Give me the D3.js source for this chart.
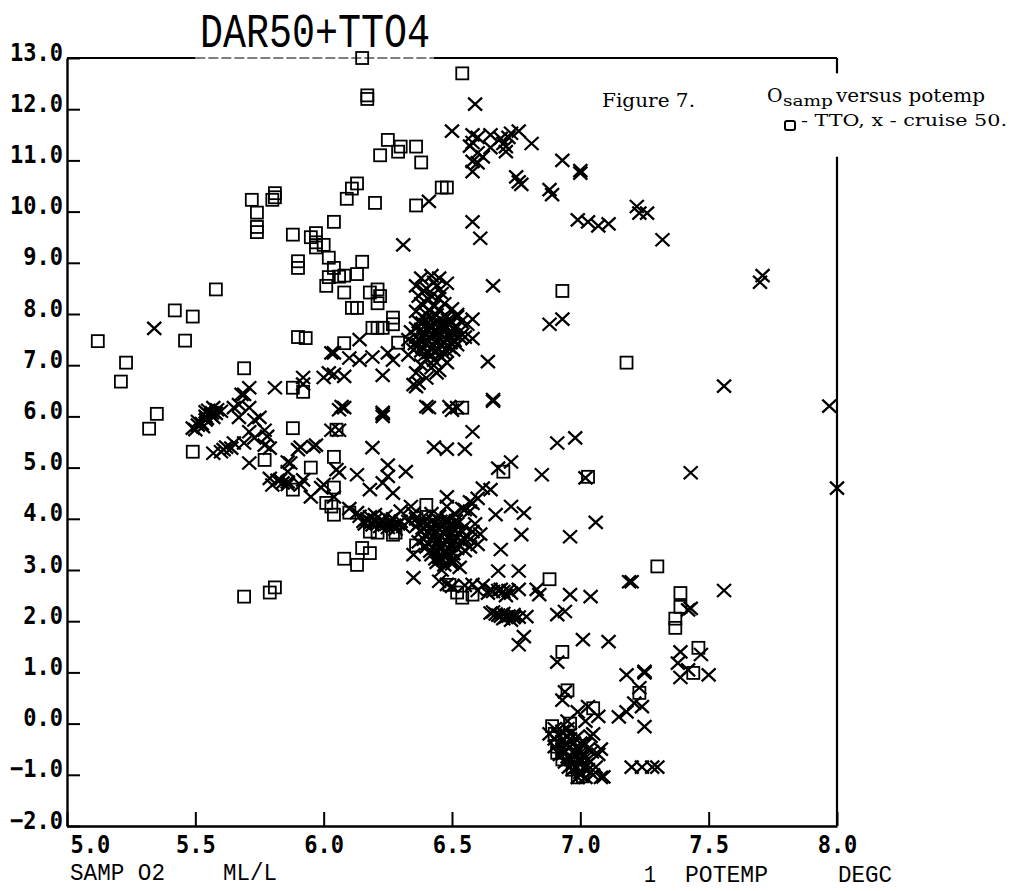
<!DOCTYPE html>
<html><head><meta charset="utf-8">
<script src="https://cdn.jsdelivr.net/npm/d3@7"></script>
<style>body{margin:0;background:#fff}</style>
</head><body>
<svg id="c" width="1014" height="891" xmlns="http://www.w3.org/2000/svg"></svg>
<script>
// ---------- data ----------
const titleText = "DAR50+TTO4";
const xTickValues = [5.0, 5.5, 6.0, 6.5, 7.0, 7.5, 8.0];
const yTickValues = [-2, -1, 0, 1, 2, 3, 4, 5, 6, 7, 8, 9, 10, 11, 12, 13];
const xDomain = [5, 8];
const yDomain = [-2, 13];

// TTO samples (squares): [O2 ml/l, potemp degC]
const ttoPoints = [
 [6.15,13.0],[6.54,12.7],[6.17,12.27],[6.17,12.2],
 [6.25,11.4],[6.22,11.1],[6.29,11.17],[6.3,11.27],[6.36,11.27],[6.38,10.96],
 [6.2,10.17],[6.09,10.25],[6.11,10.45],[6.13,10.55],[6.36,10.12],[6.46,10.47],[6.48,10.47],
 [6.04,9.8],[6.93,8.45],
 [5.72,10.23],[5.74,9.98],[5.74,9.7],[5.74,9.6],[5.8,10.23],[5.81,10.36],[5.81,10.28],
 [5.88,9.55],[5.9,9.03],[5.9,8.9],[5.95,9.5],[5.97,9.58],[5.97,9.4],[5.97,9.3],[6.0,9.35],
 [6.02,9.1],[6.04,8.9],[6.02,8.72],[6.01,8.55],[6.06,8.73],[6.08,8.75],[6.13,8.78],[6.15,9.02],
 [6.08,8.42],[6.11,8.12],[6.13,8.12],[6.18,8.42],[6.21,8.48],[6.22,8.35],[6.21,8.21],
 [6.27,7.93],[6.27,7.8],[6.19,7.73],[6.21,7.73],[6.23,7.73],[6.08,7.43],[6.29,7.44],
 [5.9,7.55],[5.93,7.53],[5.69,6.94],[5.58,8.48],[5.42,8.07],[5.49,7.95],[5.46,7.48],
 [5.88,6.56],[5.92,6.48],
 [5.12,7.47],[5.23,7.05],[5.21,6.68],[5.35,6.05],[5.32,5.76],[5.49,5.31],
 [5.88,5.77],[5.77,5.15],[5.95,5.0],[5.88,4.57],[6.04,5.21],[6.05,5.74],[6.04,4.61],[6.01,4.31],[6.03,4.24],[6.04,4.08],[6.1,4.12],
 [5.69,2.48],[5.79,2.56],[5.81,2.66],
 [6.18,3.75],[6.21,3.73],[6.27,3.69],[6.28,3.73],[6.15,3.43],[6.18,3.33],[6.08,3.22],[6.13,3.1],
 [6.36,3.48],[6.4,4.27],[6.54,6.17],[6.49,2.71],[6.52,2.56],[6.54,2.46],[6.58,2.52],
 [7.18,7.05],[6.7,4.92],[7.03,4.82],[7.3,3.07],[6.88,2.82],
 [7.39,2.55],[7.39,2.28],[7.37,2.05],[7.37,1.87],[7.46,1.48],[7.44,0.99],
 [6.93,1.4],[6.95,0.65],[7.05,0.3],[7.23,0.6],
 [6.89,-0.05],[6.91,-0.45],[6.91,-0.57],[6.93,-0.7],[6.95,-0.27],[6.96,0.0],[6.99,-1.05],
 [7.01,-1.03],[6.97,-0.9],[6.9,-0.2],[7.0,-0.8]
];

// cruise 50 samples (crosses): [O2 ml/l, potemp degC]
const cruise50Points = [
 // upper group
 [6.59,12.1],[6.5,11.57],[6.58,11.5],[6.58,11.35],[6.6,11.15],[6.57,11.28],[6.6,11.45],[6.65,11.5],
 [6.65,11.25],[6.62,11.07],[6.6,10.95],[6.69,11.43],[6.7,11.33],[6.71,11.27],[6.72,11.45],[6.73,11.53],
 [6.76,11.57],[6.71,11.17],[6.81,11.33],[6.58,10.98],[6.58,10.78],[6.75,10.68],[6.76,10.58],[6.77,10.53],
 [6.93,11.0],[7.0,10.8],[7.0,10.75],[6.88,10.43],[6.89,10.33],[6.41,10.2],[6.58,9.8],[6.61,9.48],
 [6.31,9.35],[6.99,9.84],[7.03,9.8],[7.07,9.72],[7.11,9.76],[7.22,10.1],[7.23,9.97],[7.26,9.97],
 [7.32,9.45],[6.66,8.55],[7.71,8.75],[7.7,8.62],
 // right edge
 [7.56,6.59],[7.97,6.2],[7.43,4.9],[8.0,4.6],[7.56,2.6],
 // middle
 [6.88,7.8],[6.93,7.9],[6.64,7.07],[6.66,6.33],[6.58,7.52],[6.52,7.99],[6.91,5.48],[6.98,5.58],
 [6.85,4.86],[6.73,5.11],[6.68,4.99],[7.02,4.8],[7.06,3.93],[6.96,3.65],[6.77,3.69],[6.78,4.11],
 [6.73,4.24],[6.69,3.4],[6.68,2.98],[6.76,2.98],[7.19,2.77],[6.35,2.85],
 [6.08,6.17],[6.23,6.0],[6.23,6.05],[6.41,6.17],[6.5,6.12],[6.58,5.7],[6.43,5.4],[6.48,5.36],
 [6.55,5.36],[6.19,5.39],[6.06,5.73],[6.06,4.9],[6.13,4.86],[6.25,5.05],[6.25,4.83],[6.32,4.92],
 [6.23,4.7],[6.27,4.5],[6.18,4.57],[6.04,4.43],[6.65,4.57],[6.62,4.6],[6.6,4.4],[6.57,4.33],
 [6.48,4.43],[6.48,4.24],[6.55,4.18],[6.67,4.08],[6.34,4.24],[6.66,6.3],[6.52,6.17],
 // left group
 [5.34,7.72],[5.51,5.83],[5.49,5.77],[5.54,5.93],[5.56,6.03],[5.54,6.09],[5.57,6.17],[5.54,6.0],
 [5.58,6.06],[5.6,6.1],[5.51,5.9],[5.5,5.74],
 [5.525,5.86],[5.545,5.96],[5.565,6.07],[5.53,5.8],[5.585,6.13],[5.55,6.12],[5.57,5.98],
 [5.57,5.28],[5.6,5.31],[5.62,5.4],[5.64,5.38],[5.65,5.48],[5.69,5.48],[5.61,5.35],
 [5.65,6.17],[5.67,6.23],[5.69,6.43],[5.71,6.56],[5.68,6.43],
 [5.67,5.98],[5.71,6.17],[5.73,5.93],[5.75,5.98],[5.71,5.7],[5.77,5.73],[5.73,5.58],[5.78,5.61],
 [5.77,5.44],[5.79,5.38],[5.71,5.09],[5.81,6.56],[5.92,6.76],[5.92,6.63],[6.03,7.24],[6.0,6.76],
 [6.04,6.82],[6.02,6.85],[6.08,6.78],
 [5.79,4.79],[5.82,4.75],[5.84,4.7],[5.86,4.72],[5.8,4.66],[5.91,4.66],[5.87,5.09],[5.86,4.92],
 [5.91,5.4],[5.97,5.44],[5.95,4.43],[5.99,4.61],[6.03,5.73],[6.06,6.13],
 [5.86,5.11],[5.9,5.35],[5.96,5.41],[5.92,4.76],[6.0,4.67],[6.05,4.96],[5.86,4.67],[5.83,4.76],
 // upper-middle
 [6.14,7.5],[6.04,7.24],[6.1,7.14],[6.14,7.1],[6.19,7.16],[6.25,7.24],[6.27,7.1],[6.23,6.8],
 [6.35,6.62],[6.36,6.58],[6.07,6.19],[6.23,6.08],[6.4,6.19],[6.49,6.19],
 // dense cluster near 6.4 / 7.5
 [6.38,8.7],[6.42,8.75],[6.45,8.7],[6.36,8.55],[6.4,8.5],[6.44,8.55],[6.48,8.6],[6.37,8.35],
 [6.42,8.35],[6.46,8.4],[6.38,8.2],[6.43,8.15],[6.47,8.2],[6.5,8.1],[6.36,8.05],[6.4,8.0],
 [6.44,7.98],[6.48,7.95],[6.52,7.95],
 [6.37,7.85],[6.4,7.8],[6.43,7.82],[6.46,7.8],[6.49,7.78],[6.52,7.75],[6.38,7.7],[6.41,7.68],
 [6.44,7.66],[6.47,7.7],[6.5,7.65],[6.54,7.6],[6.36,7.55],[6.39,7.55],[6.42,7.52],[6.45,7.55],
 [6.48,7.5],[6.51,7.48],[6.37,7.4],[6.4,7.42],[6.43,7.38],[6.46,7.4],[6.49,7.35],[6.52,7.4],
 [6.35,7.3],[6.38,7.28],[6.41,7.25],[6.44,7.27],[6.47,7.22],[6.4,7.12],[6.43,7.1],[6.46,7.15],
 [6.38,7.0],[6.42,6.95],[6.45,6.9],[6.36,6.85],[6.4,6.75],[6.33,7.5],[6.34,7.65],[6.56,7.8],
 [6.55,7.55],[6.58,7.9],[6.33,7.2],[6.37,6.65],[6.44,6.85],[6.48,7.05],
 [6.385,7.82],[6.415,7.78],[6.445,7.74],[6.475,7.76],[6.505,7.72],[6.39,7.62],[6.42,7.6],[6.45,7.63],
 [6.48,7.6],[6.51,7.58],[6.375,7.48],[6.405,7.47],[6.435,7.46],[6.465,7.45],[6.495,7.44],[6.385,7.35],
 [6.415,7.33],[6.445,7.32],[6.475,7.3],[6.505,7.3],[6.39,7.18],[6.42,7.19],[6.45,7.2],[6.395,7.9],
 [6.425,7.92],[6.455,7.9],[6.485,7.88],[6.41,8.08],[6.45,8.08],[6.39,8.45],[6.43,8.62],[6.41,8.28],
 [6.45,8.3],[6.53,7.55],[6.535,7.85],[6.36,7.72],[6.355,7.42],
 // cluster near 6.2 / 3.9
 [6.14,4.05],[6.17,4.0],[6.2,3.98],[6.23,3.95],[6.26,3.92],[6.29,3.9],[6.16,3.9],[6.19,3.88],
 [6.22,3.85],[6.25,3.83],[6.28,3.8],[6.31,3.85],[6.2,4.08],[6.24,4.05],[6.27,4.0],[6.13,4.12],
 [6.1,4.2],[6.33,3.95],[6.35,4.1],[6.3,4.15],
 [6.155,3.95],[6.185,3.93],[6.215,3.92],[6.245,3.9],[6.275,3.87],[6.3,3.95],[6.18,4.04],[6.26,3.97],
 // cluster near 6.45 / 3.5
 [6.36,4.0],[6.39,4.05],[6.42,4.1],[6.45,4.05],[6.48,4.0],[6.51,4.1],[6.54,4.2],[6.57,4.15],
 [6.37,3.9],[6.4,3.88],[6.43,3.9],[6.46,3.85],[6.49,3.88],[6.52,3.9],[6.55,3.85],[6.38,3.75],
 [6.41,3.72],[6.44,3.75],[6.47,3.7],[6.5,3.72],[6.53,3.7],[6.56,3.65],[6.39,3.6],[6.42,3.58],
 [6.45,3.6],[6.48,3.55],[6.51,3.58],[6.54,3.55],[6.57,3.6],[6.4,3.45],[6.43,3.42],[6.46,3.45],
 [6.49,3.4],[6.52,3.42],[6.55,3.38],[6.42,3.3],[6.45,3.25],[6.48,3.28],[6.51,3.22],[6.44,3.15],
 [6.47,3.1],[6.5,3.12],[6.53,3.05],[6.46,3.0],[6.6,3.5],[6.61,3.7],[6.59,3.9],[6.35,3.3],[6.58,4.3],
 [6.395,3.95],[6.425,3.97],[6.455,3.95],[6.485,3.94],[6.515,3.96],[6.385,3.82],[6.415,3.8],[6.445,3.82],
 [6.475,3.78],[6.505,3.8],[6.535,3.78],[6.395,3.67],[6.425,3.65],[6.455,3.67],[6.485,3.63],[6.515,3.65],
 [6.545,3.63],[6.405,3.52],[6.435,3.5],[6.465,3.52],[6.495,3.48],[6.525,3.5],[6.415,3.37],[6.445,3.35],
 [6.475,3.35],[6.505,3.32],[6.435,3.22],[6.465,3.2],[6.495,3.18],[6.57,3.45],[6.58,3.75],[6.37,3.55],[6.36,3.85],
 // cluster near 6.6 / 2.6 and 6.7 / 2.1
 [6.45,2.78],[6.48,2.72],[6.5,2.68],[6.55,2.7],[6.58,2.72],[6.62,2.7],[6.65,2.62],[6.68,2.6],
 [6.7,2.58],[6.73,2.55],[6.76,2.62],[6.6,2.6],[6.64,2.55],[6.66,2.58],[6.69,2.62],[6.72,2.6],[6.71,2.5],
 [6.66,2.18],[6.68,2.12],[6.7,2.15],[6.72,2.1],[6.74,2.13],[6.76,2.08],[6.7,2.05],[6.73,2.02],
 [6.79,2.09],[6.65,2.16],[6.69,2.1],[6.71,2.08],[6.74,2.07],[6.67,2.14],[6.78,1.7],[6.76,1.54],
 // lower right
 [6.83,2.62],[6.84,2.52],[6.96,2.52],[7.04,2.48],[6.91,2.13],[6.94,2.19],[7.01,1.64],[7.11,1.6],
 [6.91,1.2],[7.2,2.77],[7.42,2.22],[7.43,2.25],[7.39,1.4],[7.38,1.18],[7.39,0.9],[7.42,1.05],
 [7.47,1.35],[7.5,0.95],[7.18,0.95],[7.25,0.99],[7.25,1.02],[7.23,0.7],[7.21,0.4],[7.24,0.33],
 [7.15,0.13],[7.18,0.23],[7.25,-0.06],[6.93,0.46],[6.94,0.62],[6.99,0.23],[7.03,0.33],[7.07,0.14],
 [7.08,-0.5],[7.09,-1.04],[7.2,-0.85],[7.24,-0.85],[7.28,-0.85],[7.3,-0.85],[7.05,-0.2],[7.0,-0.38],
 // bottom cluster
 [6.9,-0.1],[6.93,-0.15],[6.96,-0.2],[6.9,-0.3],[6.93,-0.35],[6.96,-0.3],[6.99,-0.25],[6.9,-0.45],
 [6.93,-0.5],[6.96,-0.45],[6.99,-0.5],[7.02,-0.4],[6.92,-0.6],[6.95,-0.65],[6.98,-0.6],[7.01,-0.65],
 [6.94,-0.75],[6.97,-0.8],[7.0,-0.75],[7.03,-0.7],[6.97,-0.9],[7.0,-0.95],[7.03,-0.9],[6.99,-1.05],
 [7.02,-1.05],[7.05,-1.0],[7.06,-0.85],[7.07,-0.6],[7.04,-0.25],[6.95,0.05],[7.02,0.05],[7.08,-1.05],
 [6.88,-0.2],
 [6.915,-0.22],[6.945,-0.25],[6.975,-0.38],[6.915,-0.38],[6.945,-0.42],[6.975,-0.55],[7.005,-0.55],
 [6.935,-0.58],[6.965,-0.7],[6.995,-0.7],[7.025,-0.8],[6.985,-0.85],[7.015,-0.88],[7.0,-1.0],
 [6.955,-0.85],[7.045,-0.55],[7.03,-0.5],[6.95,-0.1]
];

// ---------- drawing ----------
const svg = d3.select("#c");
svg.append("rect").attr("width",1014).attr("height",891).attr("fill","#fff");

const x = d3.scaleLinear().domain(xDomain).range([67, 837]);
const y = d3.scaleLinear().domain(yDomain).range([826, 58]);
const fmt = d3.format(".1f");
const tickFont = "'DejaVu Sans Mono', monospace";
const sy = 1.16; // vertical stretch of tick labels

// left axis with inward ticks
const gy = svg.append("g").attr("transform", `translate(${x(xDomain[0])},0)`)
  .call(d3.axisLeft(y).tickValues(yTickValues).tickSizeInner(-13).tickSizeOuter(0).tickPadding(4).tickFormat(fmt));
gy.select(".domain").attr("stroke","#000").attr("stroke-width",2.4);
gy.selectAll(".tick line").attr("stroke","#000").attr("stroke-width",2);
gy.selectAll(".tick text").attr("dy",null).attr("y",2 / sy).attr("transform",`scale(1,${sy})`)
  .attr("font-family",tickFont).attr("font-weight","bold")
  .attr("font-size",22).attr("fill","#000");

// bottom axis with inward ticks
const gx = svg.append("g").attr("transform", `translate(0,${y(yDomain[0])})`)
  .call(d3.axisBottom(x).tickValues(xTickValues).tickSizeInner(-14).tickSizeOuter(0).tickPadding(4).tickFormat(fmt));
gx.select(".domain").attr("stroke","#000").attr("stroke-width",2.4);
gx.selectAll(".tick line").attr("stroke","#000").attr("stroke-width",2);
gx.selectAll(".tick text").attr("dy",null).attr("y",27 / sy).attr("transform",`scale(1,${sy})`)
  .attr("font-family",tickFont).attr("font-weight","bold")
  .attr("font-size",22).attr("fill","#000");
gx.selectAll(".tick text").filter(d => d === xDomain[0]).attr("text-anchor","start").attr("x",3);

// top frame (broken under the title)
const frame = svg.append("g").attr("stroke","#000");
frame.append("line").attr("x1",x(5)).attr("x2",x(5.5)).attr("y1",y(13)).attr("y2",y(13)).attr("stroke-width",2.2);
frame.append("line").attr("x1",x(5.5)).attr("x2",x(6.43)).attr("y1",y(13)).attr("y2",y(13)).attr("stroke-width",1.2).attr("stroke-dasharray","10,3");
frame.append("line").attr("x1",x(6.43)).attr("x2",x(8)).attr("y1",y(13)).attr("y2",y(13)).attr("stroke-width",2.2);
// right frame, interrupted by the legend
frame.append("line").attr("x1",x(8)).attr("x2",x(8)).attr("y1",y(13)).attr("y2",y(12.7)).attr("stroke-width",2.2);
frame.append("line").attr("x1",x(8)).attr("x2",x(8)).attr("y1",y(11.07)).attr("y2",y(-2)).attr("stroke-width",2.2);

// markers
const marks = svg.append("g");
marks.selectAll("rect.tto").data(ttoPoints).join("rect").attr("class","tto")
  .attr("x", d => x(d[0]) - 6).attr("y", d => y(d[1]) - 6)
  .attr("width",12).attr("height",12)
  .attr("fill","none").attr("stroke","#000").attr("stroke-width",1.8);
marks.selectAll("path.c50").data(cruise50Points).join("path").attr("class","c50")
  .attr("transform", d => `translate(${x(d[0])},${y(d[1])})`)
  .attr("d","M-7,-6.5L7,6.5M-7,6.5L7,-6.5")
  .attr("fill","none").attr("stroke","#000").attr("stroke-width",2.3);

// title
svg.append("text").text(titleText)
  .attr("transform","translate(200,47) scale(1,1.27)")
  .attr("font-family","'Liberation Mono', monospace").attr("font-size",38)
  .attr("textLength",230).attr("lengthAdjust","spacingAndGlyphs").attr("fill","#000");

// axis captions
const cap = (t, px, py, len) => svg.append("text").text(t)
  .attr("transform",`translate(${px},${py}) scale(1,1.18)`)
  .attr("font-family","'Liberation Mono', monospace").attr("font-size",20.5)
  .attr("textLength",len).attr("lengthAdjust","spacingAndGlyphs").attr("fill","#000");
cap("SAMP O2", 70, 880, 95);
cap("ML/L", 223, 880, 54);
cap("1", 644, 882, 12);
cap("POTEMP", 685, 882, 83);
cap("DEGC", 838, 882, 54);

// figure note / legend
const serif = "'DejaVu Serif', serif";
svg.append("text").text("Figure 7.").attr("x",602).attr("y",107)
  .attr("font-family",serif).attr("font-size",19).attr("textLength",93)
  .attr("lengthAdjust","spacingAndGlyphs").attr("fill","#000");
svg.append("text").text("O").attr("x",767).attr("y",102)
  .attr("font-family",serif).attr("font-size",19).attr("fill","#000");
svg.append("text").text("samp").attr("x",783).attr("y",106)
  .attr("font-family",serif).attr("font-size",14).attr("textLength",50)
  .attr("lengthAdjust","spacingAndGlyphs").attr("fill","#000");
svg.append("text").text("versus potemp").attr("x",836).attr("y",102)
  .attr("font-family",serif).attr("font-size",19).attr("textLength",149)
  .attr("lengthAdjust","spacingAndGlyphs").attr("fill","#000");
svg.append("rect").attr("x",785).attr("y",121).attr("width",10).attr("height",9).attr("rx",2)
  .attr("fill","none").attr("stroke","#000").attr("stroke-width",2);
svg.append("text").text("- TTO, x - cruise 50.").attr("x",801).attr("y",126)
  .attr("font-family",serif).attr("font-size",17).attr("textLength",206)
  .attr("lengthAdjust","spacingAndGlyphs").attr("fill","#000");
</script>
</body></html>
